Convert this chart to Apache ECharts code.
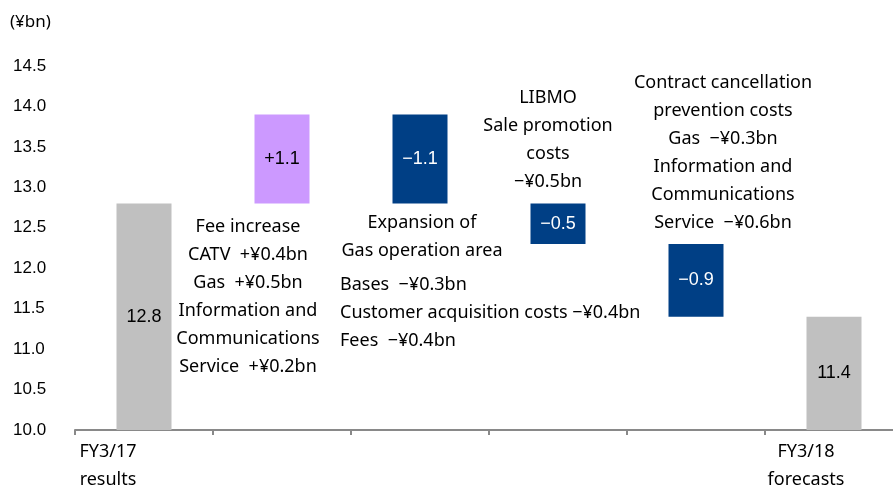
<!DOCTYPE html>
<html>
<head>
<meta charset="utf-8">
<title>Waterfall</title>
<script src="https://cdn.jsdelivr.net/npm/echarts@6/dist/echarts.min.js"></script>
<style>
    html, body { margin: 0; padding: 0; background: #fff; }
    #main { width: 893px; height: 489px; }
</style>
</head>
<body>
<div id="main"></div>
<script>
    // categories and step values (first / last are totals)
    var categories = ['FY3/17\nresults', '', '', '', '', 'FY3/18\nforecasts'];
    var steps = [12.8, 1.1, -1.1, -0.5, -0.9, 11.4];
    var stepLabels = ['12.8', '+1.1', '\u22121.1', '\u22120.5', '\u22120.9', '11.4'];
    var barColors = ['#c0c0c0', '#cc99ff', '#003f85', '#003f85', '#003f85', '#c0c0c0'];
    var labelColors = ['#000', '#000', '#fff', '#fff', '#fff', '#000'];
    var yMin = 10, yMax = 14.5, yStep = 0.5;

    // notes above/below the bars
    var notes = [
        { x: 248, y: 227, align: 'center', lines: ['Fee increase', 'CATV  +\u00a50.4bn', 'Gas  +\u00a50.5bn', 'Information and', 'Communications', 'Service  +\u00a50.2bn'] },
        { x: 422, y: 223, align: 'center', lines: ['Expansion of', 'Gas operation area'] },
        { x: 340, y: 285, align: 'left', lines: ['Bases  \u2212\u00a50.3bn', 'Customer acquisition costs \u2212\u00a50.4bn', 'Fees  \u2212\u00a50.4bn'] },
        { x: 548, y: 98, align: 'center', lines: ['LIBMO', 'Sale promotion', 'costs', '\u2212\u00a50.5bn'] },
        { x: 723, y: 83, align: 'center', lines: ['Contract cancellation', 'prevention costs', 'Gas  \u2212\u00a50.3bn', 'Information and', 'Communications', 'Service  \u2212\u00a50.6bn'] }
    ];

    // running total -> invisible base + visible part
    var base = [], rise = [];
    var running = 0;
    for (var i = 0; i < steps.length; i++) {
        if (i === 0 || i === steps.length - 1) {
            base.push(yMin);
            rise.push(+(steps[i] - yMin).toFixed(2));
            running = steps[i];
        } else if (steps[i] >= 0) {
            base.push(running);
            rise.push(steps[i]);
            running = +(running + steps[i]).toFixed(2);
        } else {
            running = +(running + steps[i]).toFixed(2);
            base.push(running);
            rise.push(-steps[i]);
        }
    }

    var font = '"Noto Sans", sans-serif';
    var arial = 'Arial, "Liberation Sans", sans-serif';

    var graphics = [{
        type: 'text', x: 10, y: 22,
        style: { text: '(\u00a5bn)', font: '17px ' + font, fill: '#000', verticalAlign: 'middle' }
    }];
    notes.forEach(function (n) {
        n.lines.forEach(function (line, k) {
            graphics.push({
                type: 'text', x: n.x, y: n.y + k * 28,
                style: { text: line, font: '18px ' + font, fill: '#000', align: n.align, verticalAlign: 'middle' }
            });
        });
    });

    var myChart = echarts.init(document.getElementById('main'));
    var option = {
        animation: false,
        grid: { left: 75, width: 828, top: 66, bottom: 59, outerBoundsMode: 'none', containLabel: false },
        xAxis: {
            type: 'category',
            data: categories.map(function (c, i) {
                return { value: c, textStyle: { padding: i === 0 ? [0, 72, 0, 0] : [0, 56, 0, 0] } };
            }),
            axisLine: { lineStyle: { color: '#898989', width: 2 } },
            axisTick: { show: true, length: 5, lineStyle: { color: '#898989', width: 2 } },
            axisLabel: { color: '#000', fontSize: 18, fontFamily: font, lineHeight: 28, margin: 8, interval: 0 }
        },
        yAxis: {
            type: 'value',
            min: yMin, max: yMax, interval: yStep,
            splitLine: { show: false },
            axisLine: { show: false },
            axisTick: { show: false },
            axisLabel: {
                color: '#000', fontSize: 17, fontFamily: arial,
                align: 'left', margin: 62,
                formatter: function (v) { return v.toFixed(1); }
            }
        },
        graphic: graphics,
        series: [
            {
                name: 'base',
                type: 'bar',
                stack: 'wf',
                barWidth: 55,
                itemStyle: { color: 'transparent' },
                emphasis: { disabled: true },
                data: base
            },
            {
                name: 'value',
                type: 'bar',
                stack: 'wf',
                barWidth: 55,
                data: rise.map(function (v, i) {
                    return {
                        value: v,
                        itemStyle: { color: barColors[i] },
                        label: { color: labelColors[i] }
                    };
                }),
                label: {
                    show: true,
                    position: 'inside',
                    fontSize: 18,
                    fontFamily: arial,
                    formatter: function (p) { return stepLabels[p.dataIndex]; }
                }
            }
        ]
    };
    myChart.setOption(option);
</script>
</body>
</html>
